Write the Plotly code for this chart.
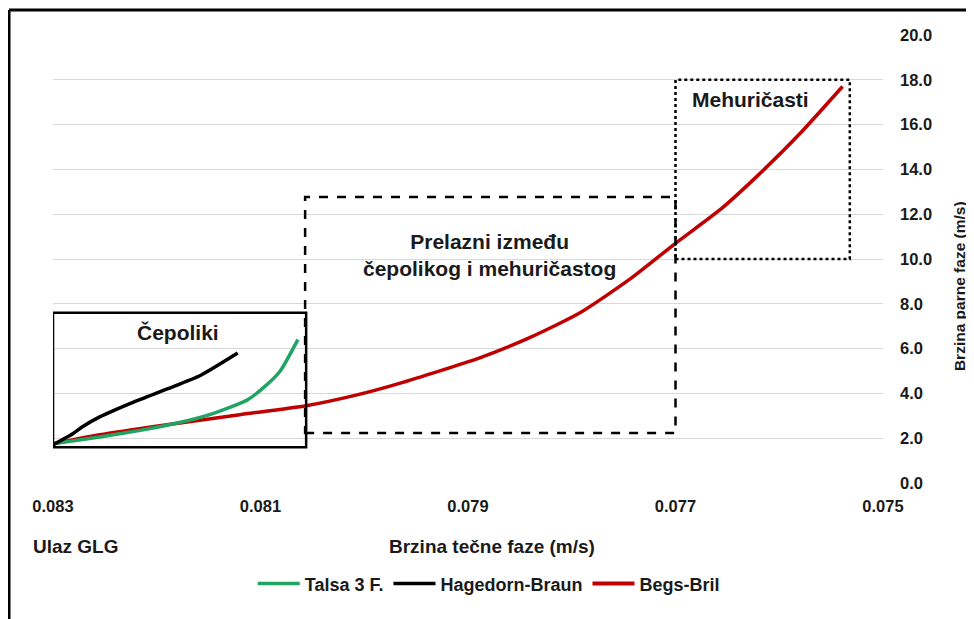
import plotly.graph_objects as go

# Brzina tečne faze (m/s) vs. brzina parne faze (m/s)
talsa_x = [0.08300, 0.08255, 0.08216, 0.08178, 0.08146, 0.08113, 0.08096, 0.08081, 0.08064]
talsa_y = [1.75, 2.05, 2.35, 2.70, 3.10, 3.70, 4.30, 5.00, 6.40]

hb_x = [0.08300, 0.08281, 0.08272, 0.08255, 0.08223, 0.08190, 0.08158, 0.08122]
hb_y = [1.70, 2.20, 2.50, 2.95, 3.60, 4.20, 4.80, 5.80]

bb_x = [0.08300, 0.08255, 0.08190, 0.08120, 0.08056, 0.08010, 0.07966, 0.07888, 0.07840,
        0.07792, 0.07744, 0.07700, 0.07657, 0.07619, 0.07580, 0.07539]
bb_y = [1.75, 2.15, 2.60, 3.05, 3.45, 3.90, 4.45, 5.60, 6.50,
        7.60, 9.10, 10.70, 12.20, 13.80, 15.60, 17.70]

x_ticks = [0.083, 0.081, 0.079, 0.077, 0.075]
y_ticks = [0, 2, 4, 6, 8, 10, 12, 14, 16, 18, 20]

# flow-regime regions (x0, x1, y0, y1) and their labels
regions = [
    dict(x=(0.08300, 0.08056), y=(1.6, 7.6), dash="solid",
         label="Čepoliki", lx=0.08180, ly=6.7),
    dict(x=(0.08057, 0.07700), y=(2.23, 12.77), dash="dash",
         label="Prelazni između<br>čepolikog i mehuričastog", lx=0.07879, ly=10.2),
    dict(x=(0.07700, 0.07532), y=(10.0, 18.0), dash="dot",
         label="Mehuričasti", lx=0.07628, ly=17.1),
]

FONT = "Liberation Sans, Arial, sans-serif"
TXT = "#1a1a1a"


def bold(size):
    return dict(family=FONT, size=size, color=TXT, weight="bold")


fig = go.Figure()

line_kw = dict(width=3.5, shape="spline", smoothing=0.6)
fig.add_trace(go.Scatter(x=bb_x, y=bb_y, mode="lines", name="Begs-Bril",
                         line=dict(color="#C00000", **line_kw), showlegend=False))
fig.add_trace(go.Scatter(x=talsa_x, y=talsa_y, mode="lines", name="Talsa 3 F.",
                         line=dict(color="#1FA463", **line_kw)))
fig.add_trace(go.Scatter(x=hb_x, y=hb_y, mode="lines", name="Hagedorn-Braun",
                         line=dict(color="#000000", **line_kw)))
# legend entry for Begs-Bril in last position
fig.add_trace(go.Scatter(x=[None], y=[None], mode="lines", name="Begs-Bril",
                         line=dict(color="#C00000", width=4)))

for r in regions:
    fig.add_shape(type="rect", xref="x", yref="y",
                  x0=r["x"][0], x1=r["x"][1], y0=r["y"][0], y1=r["y"][1],
                  line=dict(color="black", width=2.5, dash=r["dash"]),
                  fillcolor="rgba(0,0,0,0)", layer="above")
    fig.add_annotation(x=r["lx"], y=r["ly"], xref="x", yref="y", text=r["label"],
                       showarrow=False, font=bold(21))

# outer frame (top and left edges)
fig.add_shape(type="line", xref="paper", yref="paper", x0=-0.053, x1=1.12, y0=1.056, y1=1.056,
              line=dict(color="black", width=3))
fig.add_shape(type="line", xref="paper", yref="paper", x0=-0.053, x1=-0.053, y0=1.056, y1=-0.32,
              line=dict(color="black", width=3))

# axis titles and start label
fig.add_annotation(x=-0.026, y=-0.141, xref="paper", yref="paper", text="Ulaz GLG",
                   xanchor="left", yanchor="middle", showarrow=False, font=bold(19))
fig.add_annotation(x=0.529, y=-0.141, xref="paper", yref="paper", text="Brzina tečne faze (m/s)",
                   xanchor="center", yanchor="middle", showarrow=False, font=bold(19))
fig.add_annotation(x=1.093, y=0.44, xref="paper", yref="paper", text="Brzina parne faze (m/s)",
                   textangle=-90, xanchor="center", yanchor="middle", showarrow=False,
                   font=bold(15.5))

fig.update_layout(
    width=966,
    height=611,
    paper_bgcolor="white",
    plot_bgcolor="white",
    margin=dict(l=45, r=91, t=27, b=136),
    font=bold(16.5),
    xaxis=dict(
        range=[0.083, 0.075],
        tickvals=x_ticks,
        tickformat=".3f",
        showgrid=False,
        zeroline=False,
        showline=False,
        ticks="",
        ticklabelstandoff=11,
    ),
    yaxis=dict(
        range=[0, 20],
        side="right",
        tickvals=y_ticks,
        tickformat=".1f",
        showgrid=True,
        gridcolor="#d9d9d9",
        gridwidth=1,
        zeroline=False,
        showline=False,
        ticks="",
        ticklabelstandoff=16,
    ),
    legend=dict(
        orientation="h",
        x=0.525,
        xanchor="center",
        y=-0.225,
        yanchor="middle",
        itemwidth=42,
        font=bold(18),
        bgcolor="rgba(0,0,0,0)",
    ),
)

fig.write_html("out.html")
